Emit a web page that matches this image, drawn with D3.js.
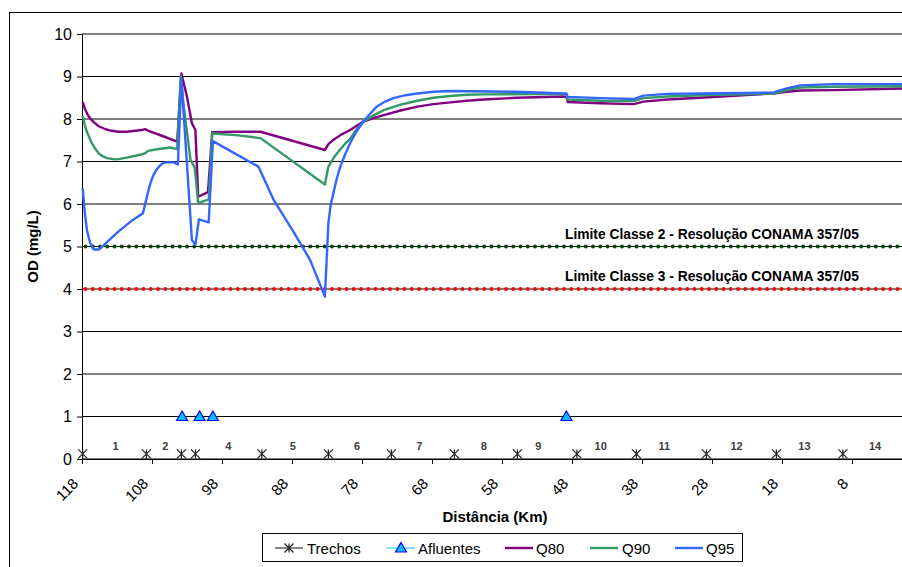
<!DOCTYPE html>
<html>
<head>
<meta charset="utf-8">
<script src="https://cdn.jsdelivr.net/npm/d3@7/dist/d3.min.js"></script>
<style>
  html, body { margin: 0; padding: 0; background: #fff; overflow: hidden; }
  svg { display: block; font-family: Arial, "Liberation Sans", sans-serif; }
</style>
</head>
<body>
<svg id="chart" width="902" height="567"></svg>
<script>
// Oxygen profile (OD, mg/L) along the river, by distance to the mouth (km)
const q80 = [
  [117.9, 8.40], [117.6, 8.25], [117.2, 8.10], [116.8, 8.01], [116.3, 7.92], [115.6, 7.83],
  [114.8, 7.77], [114.0, 7.73], [112.8, 7.70], [111.6, 7.70], [109.5, 7.74], [109.0, 7.76],
  [108.5, 7.72], [106.5, 7.60], [104.4, 7.47], [103.8, 9.07], [103.0, 8.52], [102.3, 7.90],
  [101.8, 7.74], [101.4, 6.17], [100.0, 6.28], [99.4, 7.69], [96.0, 7.70], [92.5, 7.70],
  [83.3, 7.27], [82.8, 7.41], [82.0, 7.52], [81.1, 7.62], [79.7, 7.74], [77.8, 7.94],
  [76.4, 8.02], [74.9, 8.09], [72.5, 8.20], [70.1, 8.29], [67.8, 8.35], [65.4, 8.39],
  [63.0, 8.43], [60.6, 8.46], [55.9, 8.50], [49.2, 8.53], [48.8, 8.52], [48.6, 8.40],
  [44.0, 8.37], [39.2, 8.35], [37.8, 8.41], [34.4, 8.46], [29.7, 8.50], [19.2, 8.60],
  [18.2, 8.62], [17.3, 8.64], [15.4, 8.67], [10.6, 8.68], [0.0, 8.72]
];
const q90 = [
  [117.9, 8.07], [117.6, 7.85], [117.3, 7.70], [116.9, 7.54], [116.6, 7.43], [116.1, 7.30],
  [115.6, 7.19], [115.0, 7.12], [114.4, 7.08], [113.7, 7.06], [113.0, 7.05], [111.6, 7.09],
  [109.4, 7.17], [108.9, 7.20], [108.6, 7.25], [106.8, 7.30], [105.4, 7.33], [104.4, 7.29],
  [103.9, 9.00], [103.4, 8.21], [102.5, 7.04], [101.9, 6.86], [101.4, 6.02], [99.9, 6.11],
  [99.4, 7.66], [96.0, 7.62], [92.5, 7.55], [83.3, 6.46], [82.8, 6.88], [82.0, 7.10],
  [81.1, 7.29], [80.4, 7.42], [79.7, 7.53], [78.8, 7.75], [77.8, 7.94], [76.4, 8.08],
  [74.9, 8.21], [72.5, 8.34], [70.1, 8.43], [67.8, 8.50], [65.4, 8.54], [63.0, 8.57],
  [60.6, 8.58], [49.2, 8.59], [48.8, 8.58], [48.6, 8.46], [43.9, 8.43], [39.2, 8.42],
  [37.8, 8.49], [34.4, 8.53], [29.7, 8.56], [19.2, 8.60], [18.2, 8.64], [17.3, 8.68],
  [15.4, 8.74], [10.6, 8.76], [0.0, 8.77]
];
const q95 = [
  [117.9, 6.37], [117.6, 5.80], [117.3, 5.39], [117.0, 5.18], [116.8, 5.07], [116.5, 4.97],
  [116.3, 4.93], [115.6, 4.93], [115.0, 5.01], [114.4, 5.11], [112.8, 5.35], [111.1, 5.58],
  [109.3, 5.78], [108.9, 6.05], [108.5, 6.33], [108.1, 6.55], [107.8, 6.68], [107.3, 6.82],
  [106.8, 6.92], [106.3, 6.97], [105.9, 6.98], [104.9, 6.98], [104.3, 6.93], [103.8, 8.95],
  [102.3, 5.15], [101.8, 5.04], [101.3, 5.64], [99.9, 5.57], [99.3, 7.48], [92.8, 6.88],
  [90.6, 6.09], [87.8, 5.35], [85.4, 4.68], [83.3, 3.82], [82.8, 5.55], [82.5, 5.95],
  [82.1, 6.25], [81.6, 6.60], [81.1, 6.88], [80.4, 7.17], [79.7, 7.43], [78.8, 7.70],
  [77.8, 7.94], [76.8, 8.13], [75.9, 8.29], [74.7, 8.41], [73.5, 8.49], [71.8, 8.56],
  [70.1, 8.60], [67.8, 8.64], [65.4, 8.66], [55.9, 8.64], [49.2, 8.60], [48.8, 8.60],
  [48.6, 8.52], [43.9, 8.49], [39.2, 8.47], [37.8, 8.55], [34.4, 8.59], [29.7, 8.60],
  [19.2, 8.62], [18.2, 8.68], [17.3, 8.72], [15.4, 8.79], [10.6, 8.82], [0.0, 8.82]
];

// Reach boundaries (Trechos) and tributary inflows (Afluentes)
const trechosKm = [117.9, 108.8, 103.8, 101.8, 92.3, 82.8, 73.8, 64.8, 55.8, 47.3, 38.8, 28.8, 18.8, 9.3];
const trechosOd = 0.12;
const trechoLabels = ["1", "2", "4", "5", "6", "7", "8", "9", "10", "11", "12", "13", "14"];
const trechoLabelKm = [113.2, 106.1, 97.1, 87.9, 78.7, 69.8, 60.6, 52.8, 43.9, 34.8, 24.5, 14.8, 4.7];
const trechoLabelOd = 0.3;
const afluentesKm = [103.7, 101.2, 99.3, 48.8];
const afluentesOd = 1;

// CONAMA 357/05 limits
const limites = [
  { name: "Limite Classe 2 - Resolução CONAMA 357/05", od: 5, color: "#004d00" },
  { name: "Limite Classe 3 - Resolução CONAMA 357/05", od: 4, color: "#ff0000" }
];

const xTicks = [118, 108, 98, 88, 78, 68, 58, 48, 38, 28, 18, 8];
const yTicks = [0, 1, 2, 3, 4, 5, 6, 7, 8, 9, 10];

const series = [
  { name: "Q80", data: q80, color: "#800080" },
  { name: "Q90", data: q90, color: "#339966" },
  { name: "Q95", data: q95, color: "#3366ff" }
];

const svg = d3.select("#chart");
const x = d3.scaleLinear().domain([118, 0]).range([82, 908]);
const y = d3.scaleLinear().domain([0, 10]).range([459, 34]);

// outer chart frame
svg.append("rect").attr("x", 9.5).attr("y", 12.5).attr("width", 1000).attr("height", 1000)
  .attr("fill", "none").attr("stroke", "#000").attr("stroke-width", 1);

// horizontal gridlines
svg.append("g").selectAll("line").data(yTicks).join("line")
  .attr("x1", x(118)).attr("x2", x(0))
  .attr("y1", d => y(d)).attr("y2", d => y(d))
  .attr("stroke", "#000").attr("stroke-width", 1);

// y axis
const yAxis = svg.append("g").attr("transform", `translate(${x(118)},0)`)
  .call(d3.axisLeft(y).tickValues(yTicks).tickSize(5).tickSizeOuter(0).tickPadding(5));
yAxis.select(".domain").attr("stroke", "#000");
yAxis.selectAll("text").style("font-size", "16px").attr("fill", "#000")
  .style("font-family", "Arial, 'Liberation Sans', sans-serif");

// x axis
const xAxis = svg.append("g").attr("transform", `translate(0,${y(0)})`)
  .call(d3.axisBottom(x).tickValues(xTicks).tickSize(5).tickSizeOuter(0).tickFormat(d3.format("d")));
xAxis.select(".domain").attr("stroke", "#000");
xAxis.selectAll("text")
  .style("font-size", "15px").attr("fill", "#000")
  .style("font-family", "Arial, 'Liberation Sans', sans-serif")
  .attr("text-anchor", "end")
  .attr("x", 0).attr("y", 0).attr("dy", "0.35em")
  .attr("transform", "translate(-7,22) rotate(-45)");

// axis titles
svg.append("text").attr("x", (x(118) + x(0)) / 2).attr("y", 522)
  .attr("text-anchor", "middle").style("font-size", "15px").attr("font-weight", "bold")
  .text("Distância (Km)");
svg.append("text").attr("transform", `translate(38,${(y(0) + y(10)) / 2}) rotate(-90)`)
  .attr("text-anchor", "middle").style("font-size", "15px").attr("font-weight", "bold")
  .text("OD (mg/L)");

// limit lines drawn as dotted series
limites.forEach(l => {
  svg.append("line")
    .attr("x1", x(117.5)).attr("x2", x(0)).attr("y1", y(l.od)).attr("y2", y(l.od))
    .attr("stroke", l.color).attr("stroke-width", 4).attr("stroke-linecap", "round")
    .attr("stroke-dasharray", "0 7.25");
  svg.append("text").attr("x", 565).attr("y", y(l.od) - 8)
    .style("font-size", "13.8px").attr("font-weight", "bold").attr("fill", "#000")
    .text(l.name);
});

// discharge curves
const line = d3.line().x(d => x(d[0])).y(d => y(d[1]));
svg.append("g").selectAll("path").data(series).join("path")
  .attr("d", d => line(d.data))
  .attr("fill", "none").attr("stroke", d => d.color)
  .attr("stroke-width", 2.4).attr("stroke-linejoin", "round");

// asterisk marker
const asterisk = r => `M${-r},${-r}L${r},${r}M${-r},${r}L${r},${-r}M0,${-r}L0,${r}`;
const triangle = "M0,-5.5L5.5,4L-5.5,4Z";

svg.append("g").selectAll("path").data(trechosKm).join("path")
  .attr("transform", d => `translate(${x(d)},${y(trechosOd)})`)
  .attr("d", asterisk(4.5)).attr("stroke", "#222").attr("stroke-width", 1.2).attr("fill", "none");

svg.append("g").selectAll("text").data(trechoLabels).join("text")
  .attr("x", (d, i) => x(trechoLabelKm[i])).attr("y", y(trechoLabelOd) + 4)
  .attr("text-anchor", "middle").style("font-size", "11px").attr("font-weight", "bold")
  .attr("fill", "#404040").text(d => d);

svg.append("g").selectAll("path").data(afluentesKm).join("path")
  .attr("transform", d => `translate(${x(d)},${y(afluentesOd)})`)
  .attr("d", triangle).attr("fill", "#00c0ff").attr("stroke", "#0000ff").attr("stroke-width", 1.2);

// legend
const lg = svg.append("g");
lg.append("rect").attr("x", 262.5).attr("y", 533.5).attr("width", 480).attr("height", 28)
  .attr("fill", "#fff").attr("stroke", "#000");
const legendItems = [
  { name: "Trechos", color: "#333", x1: 275, tx: 307, mark: "asterisk" },
  { name: "Afluentes", color: "#33ccff", x1: 387, tx: 418, mark: "triangle" },
  { name: "Q80", color: series[0].color, x1: 505, tx: 536 },
  { name: "Q90", color: series[1].color, x1: 590, tx: 622 },
  { name: "Q95", color: series[2].color, x1: 675, tx: 706 }
];
const ly = 548;
legendItems.forEach(it => {
  lg.append("line").attr("x1", it.x1).attr("x2", it.x1 + 28).attr("y1", ly).attr("y2", ly)
    .attr("stroke", it.color).attr("stroke-width", it.mark ? 1.2 : 2.4);
  if (it.mark === "asterisk") {
    lg.append("path").attr("transform", `translate(${it.x1 + 14},${ly})`)
      .attr("d", asterisk(4.5)).attr("stroke", "#222").attr("stroke-width", 1.2).attr("fill", "none");
  } else if (it.mark === "triangle") {
    lg.append("path").attr("transform", `translate(${it.x1 + 14},${ly})`)
      .attr("d", triangle).attr("fill", "#00c0ff").attr("stroke", "#0000ff").attr("stroke-width", 1.2);
  }
  lg.append("text").attr("x", it.tx).attr("y", ly + 6).style("font-size", "15px").attr("fill", "#000")
    .text(it.name);
});
</script>
</body>
</html>
